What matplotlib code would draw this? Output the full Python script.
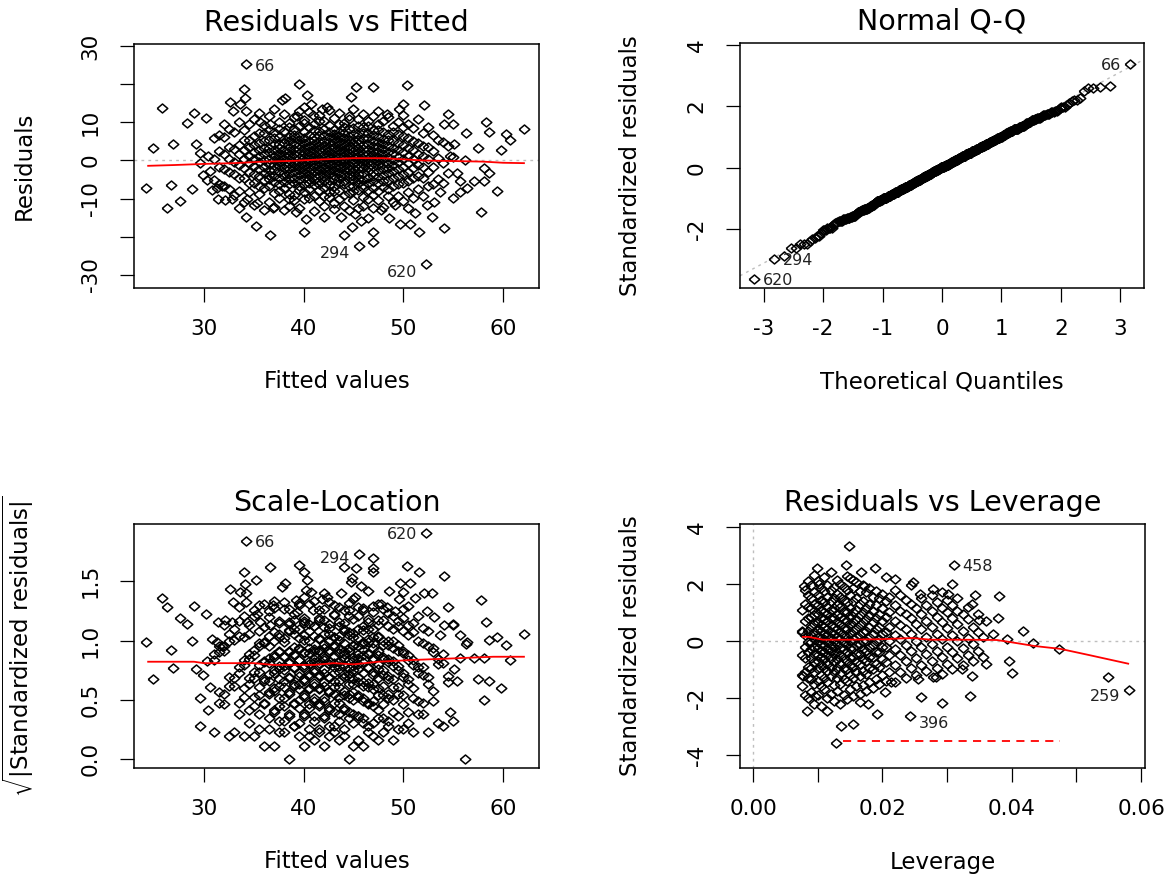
import numpy as np
import matplotlib
matplotlib.use("Agg")
import matplotlib.pyplot as plt
from statistics import NormalDist

plt.rcParams['font.family'] = ['DejaVu Sans']
plt.rcParams['mathtext.fontset'] = 'dejavusans'
plt.rcParams['axes.unicode_minus'] = False

# ---------------- Residuals vs Fitted ----------------
# sparse points round the cloud: (fitted, residual)
edge_left = [(24.2, -7.3), (24.9, 3.4), (25.8, 13.9), (26.3, -12.4), (26.7, -6.4), (26.9, 4.4),
             (27.6, -10.6), (28.3, 9.8), (28.8, -7.5), (29.0, 12.5), (29.2, 4.3), (29.6, 2.0),
             (29.6, -0.6), (29.9, -3.8), (30.2, 11.2), (30.3, -5.1), (30.4, 1.3), (30.6, -2.8),
             (30.8, -7.7)]
edge_mid = [(31.3, -7.3), (31.4, -10.0), (31.8, -6.8), (32.0, 9.6), (32.1, -10.3), (32.6, 15.4),
            (32.8, -10.0), (32.9, 13.1), (33.5, -12.4), (33.6, 14.9), (34.0, 18.7), (34.1, 16.3),
            (34.2, 13.1), (34.2, -14.8), (34.3, -10.0), (35.2, -17.1), (35.3, -11.3), (35.6, 10.1),
            (36.6, 9.6), (36.6, -19.7), (36.9, -12.6), (37.8, 15.8), (38.1, 16.5), (38.5, -12.0),
            (39.2, -13.5), (39.3, 11.6), (39.5, 20.1), (40.0, 14.1), (40.0, -18.7), (40.2, -15.3),
            (40.3, 17.1), (40.7, 14.9), (40.9, 11.9), (41.8, 13.6)]
edge_right = [(42.0, -14.8), (42.3, 14.0), (43.0, -11.3), (43.7, -14.8), (44.0, -19.7), (44.7, 16.7),
              (44.8, -17.5), (45.2, -14.0), (45.3, 19.4), (45.8, -16.0), (46.5, -15.1), (47.0, 19.4),
              (47.0, -18.7), (47.0, -21.5), (47.8, -12.9), (48.4, 12.3), (48.6, -15.1), (49.2, -11.7),
              (49.6, 13.6), (49.7, -16.6), (50.0, 14.9), (50.4, 19.8), (50.5, -12.5), (50.7, -16.6),
              (51.2, -13.8), (51.6, -18.7), (52.1, 14.7), (52.4, -11.7), (52.9, -14.8), (53.1, -10.8),
              (53.7, -8.2), (54.1, 9.6), (54.1, -17.8), (54.5, 12.3), (54.7, 1.2), (55.0, 9.6),
              (55.1, 4.3), (55.4, -3.3), (55.7, -5.5), (55.7, -8.2), (56.2, 0.0), (56.3, 7.1),
              (56.4, -7.3), (57.1, -5.5), (57.5, 3.4), (57.8, -13.5), (58.1, -1.9), (58.1, -5.5),
              (58.3, 10.1), (58.6, 7.6), (58.6, -3.3), (59.4, -8.0), (59.8, 2.7), (60.3, 6.9),
              (60.7, 5.3), (62.1, 8.3)]
# dense middle of the cloud: fitted value -> residuals
core_cols = [
    (31.0, [-5.2, 0.4, 5.9]),
    (31.5, [-6.1, -1.7, 2.4, 6.8]),
    (32.0, [-6.8, -2.3, 1.6, 6.2]),
    (32.5, [-7.5, -2.9, 0.3, 3.6, 8.4]),
    (33.0, [-9.1, -3.5, -0.4, 2.9, 7.6]),
    (33.5, [-8.1, -4.5, -1.1, 1.7, 4.0, 10.2]),
    (34.0, [-10.9, -4.7, -2.1, 0.3, 2.7, 5.3, 7.9]),
    (34.5, [-8.3, -5.9, -3.0, -0.7, 1.3, 3.5, 5.4, 9.6]),
    (35.0, [-11.8, -5.8, -3.5, -1.5, 0.3, 2.1, 4.1, 6.4, 10.9]),
    (35.5, [-8.8, -6.8, -4.1, -2.2, -0.5, 1.1, 2.8, 4.7, 7.2, 12.6]),
    (36.0, [-12.9, -7.2, -5.1, -3.3, -1.6, 0.1, 1.7, 3.4, 5.0, 7.3, 9.3]),
    (36.5, [-10.8, -6.8, -4.9, -3.9, -2.4, -0.9, 0.5, 2.3, 3.3, 5.5, 8.1, 11.7]),
    (37.0, [-12.2, -8.6, -5.6, -4.0, -2.5, -1.2, 0.1, 1.3, 2.7, 4.2, 5.8, 7.5, 13.4]),
    (37.5, [-9.9, -7.9, -6.2, -4.6, -2.9, -1.5, -0.4, 0.8, 2.0, 3.4, 4.3, 6.1, 8.4, 10.2]),
    (38.0, [-13.1, -7.3, -5.7, -4.2, -3.3, -2.0, -0.8, 0.4, 1.5, 2.8, 4.6, 5.6, 7.8, 12.1]),
    (38.5, [-10.0, -8.7, -6.3, -4.9, -3.5, -2.3, -1.0, 0.0, 1.1, 2.4, 3.6, 5.0, 6.1, 8.9, 9.8]),
    (39.0, [-10.3, -9.1, -5.9, -4.5, -3.0, -1.7, -0.6, 0.6, 1.6, 2.9, 4.4, 5.8, 6.7, 8.3, 11.3]),
    (39.5, [-12.6, -7.8, -6.6, -5.2, -3.7, -2.6, -1.4, -0.3, 0.7, 1.9, 3.0, 4.0, 5.3, 6.5, 9.1, 13.0]),
    (40.0, [-10.2, -8.2, -6.1, -4.7, -3.4, -2.2, -1.1, -0.1, 1.0, 2.1, 3.3, 4.5, 6.0, 7.6, 9.9, 10.6]),
    (40.5, [-9.8, -7.5, -6.0, -4.8, -3.9, -2.7, -1.6, -0.5, 0.3, 1.4, 2.6, 3.7, 5.1, 6.6, 8.7, 12.8]),
    (41.0, [-13.3, -9.4, -6.5, -5.0, -4.1, -2.9, -1.8, -0.8, 0.2, 1.0, 2.0, 3.1, 4.2, 5.4, 6.3, 8.1, 9.5]),
    (41.5, [-10.6, -7.7, -6.2, -5.3, -3.8, -2.6, -1.5, -0.4, 0.5, 1.6, 2.7, 3.7, 4.9, 6.4, 7.8, 10.3, 11.9]),
    (42.0, [-12.0, -9.3, -7.1, -5.5, -4.3, -3.2, -2.0, -1.0, -0.1, 0.9, 1.8, 2.9, 4.0, 5.2, 6.6, 8.4, 10.4]),
    (42.5, [-9.7, -8.4, -6.4, -5.1, -3.6, -2.4, -1.3, -0.3, 0.6, 1.4, 2.5, 3.5, 4.8, 6.1, 7.4, 9.2, 13.2]),
    (43.0, [-12.7, -7.9, -6.7, -4.9, -4.0, -2.8, -1.7, -0.6, 0.4, 1.2, 2.3, 3.3, 4.5, 5.7, 6.9, 8.0, 11.1]),
    (43.5, [-10.1, -8.1, -6.0, -4.6, -3.3, -2.1, -1.1, -0.2, 0.8, 1.7, 2.8, 4.1, 5.0, 6.5, 7.6, 9.5, 12.4]),
    (44.0, [-11.9, -9.0, -6.3, -5.4, -3.9, -2.5, -1.4, -0.5, 0.3, 1.3, 2.2, 3.6, 4.7, 5.9, 7.2, 8.7, 9.9]),
    (44.5, [-13.0, -8.6, -6.6, -4.4, -3.5, -2.3, -1.2, 0.0, 0.9, 2.0, 3.0, 3.9, 5.3, 6.3, 8.2, 10.9, 11.8]),
    (45.0, [-10.5, -8.0, -6.8, -5.2, -4.2, -3.0, -1.9, -0.7, 0.1, 1.1, 2.4, 3.4, 4.6, 5.6, 7.0, 8.5, 13.6]),
    (45.5, [-12.4, -7.8, -5.9, -4.8, -3.6, -2.2, -1.0, 0.2, 1.0, 2.1, 3.2, 4.3, 5.5, 6.8, 9.1, 11.0]),
    (46.0, [-9.5, -7.3, -6.4, -5.0, -3.2, -2.0, -0.9, -0.1, 0.7, 1.8, 2.9, 4.0, 5.8, 7.1, 8.9, 12.2, -11.9]),
    (46.5, [-10.1, -7.7, -6.0, -4.5, -2.8, -1.6, -0.4, 0.6, 1.7, 3.1, 4.4, 5.9, 7.3, 9.1, 10.5]),
    (47.0, [-9.0, -7.2, -5.5, -4.1, -3.0, -1.8, -0.7, 0.3, 1.5, 2.6, 3.8, 5.2, 6.6, 8.0, 11.6, -12.5]),
    (47.5, [-10.4, -7.9, -5.8, -4.3, -2.7, -1.3, -0.2, 0.9, 2.2, 3.5, 4.8, 6.2, 8.1, 9.6, 12.9]),
    (48.0, [-12.1, -6.9, -5.4, -3.8, -2.2, -0.9, 0.4, 1.6, 2.9, 4.2, 5.6, 7.5, 10.3]),
    (48.5, [-9.4, -7.4, -5.0, -3.4, -2.0, -0.6, 0.8, 2.3, 3.7, 5.4, 7.0, 11.4]),
    (49.0, [-11.0, -6.6, -4.6, -2.8, -1.2, 0.2, 1.9, 3.4, 5.1, 7.4, 9.0]),
    (49.5, [-9.4, -6.3, -4.2, -2.3, -0.5, 1.0, 2.8, 4.6, 6.9, 10.2]),
    (50.0, [-10.7, -6.0, -3.6, -1.6, 0.5, 2.2, 4.0, 6.3, 8.7, 12.0]),
    (50.5, [-8.2, -5.3, -3.0, -0.7, 1.2, 3.4, 5.8, 9.6]),
    (51.0, [-9.9, -4.7, -2.0, 0.4, 2.7, 5.2, 8.6]),
    (51.5, [-7.4, -4.0, -1.1, 1.8, 4.5, 10.9]),
    (52.0, [-9.2, -4.5, -1.7, 1.1, 3.8, 7.2]),
    (52.5, [-6.8, -3.0, 0.4, 3.6, 8.8]),
    (53.0, [-6.1, -1.8, 2.5, 6.6]),
    (53.5, [-4.8, 0.7, 5.4]),
    (54.0, [-5.9, -0.6, 4.9]),
    (54.5, [-3.2, 3.7]),
    (55.0, [-9.8, 0.8]),
]
# labelled observations
id_names = ["66", "294", "620"]
id_fitted = [34.2, 45.6, 52.3]
id_resid = [25.3, -22.4, -27.3]
sigma = 7.5  # residual / standardized residual, read from obs 66

# red smoothers
rf_smooth_x = [24.4, 27, 30, 33, 36, 39, 42, 45, 48, 50, 52, 54, 56, 58, 60, 62.1]
rf_smooth_y = [-1.4, -1.2, -0.9, -0.7, -0.3, -0.1, 0.3, 0.6, 0.6, 0.3, 0.0, -0.1, -0.2, -0.3, -0.6, -0.7]
sl_smooth_x = [24.4, 29, 30, 35, 37, 41, 43, 45, 47.5, 51, 55, 59, 62.1]
sl_smooth_y = [0.822, 0.822, 0.81, 0.81, 0.795, 0.795, 0.81, 0.80, 0.822, 0.837, 0.85, 0.864, 0.864]

# ---------------- Residuals vs Leverage ----------------
lev_edge = [(0.01486, 3.32), (0.00993, 2.56), (0.01435, 2.67), (0.01883, 2.56), (0.01677, 2.43),
            (0.00792, 1.94), (0.01023, 2.0), (0.01446, 2.27), (0.01548, 2.12), (0.01713, 1.94),
            (0.02063, 2.23), (0.0219, 2.18), (0.02474, 2.06), (0.02782, 1.82), (0.0258, 1.65),
            (0.00752, 0.36), (0.00752, -1.57), (0.00776, -1.22), (0.00957, -1.92), (0.00838, -2.45),
            (0.01147, -2.45), (0.01358, -2.97), (0.01548, -2.91), (0.01276, -3.58), (0.01918, -2.56),
            (0.01651, -2.15), (0.0178, -2.21), (0.02603, -1.98), (0.02551, -1.33), (0.02782, -1.27),
            (0.0214, -1.45), (0.02037, -1.8), (0.0308, 2.0), (0.0302, 1.65), (0.03426, 1.61),
            (0.0380, 1.59), (0.0338, 1.30), (0.0350, 0.74), (0.03786, 0.81), (0.0360, 0.70),
            (0.03709, 0.25), (0.03925, 0.07), (0.04171, 0.36), (0.04336, -0.08), (0.04727, -0.28),
            (0.03955, -0.69), (0.04007, -1.11), (0.03606, -0.81), (0.0339, -1.25), (0.03236, -0.98),
            (0.03359, -1.95), (0.02927, -2.19), (0.05483, -1.27), (0.0283, -1.27)]
lev_cols = [
    (0.0075, [-1.2, -0.5, 0.3, 1.1]),
    (0.0080, [-1.9, -1.1, -0.6, -0.2, 0.2, 0.7, 1.3, 1.8]),
    (0.0085, [-2.0, -1.3, -0.9, -0.4, -0.05, 0.35, 0.8, 1.2, 1.6, 2.1]),
    (0.0090, [-1.8, -1.35, -0.95, -0.6, -0.3, -0.05, 0.2, 0.5, 0.85, 1.15, 1.5, 1.95]),
    (0.0095, [-2.2, -1.5, -1.1, -0.75, -0.45, -0.2, 0.05, 0.3, 0.6, 0.9, 1.3, 1.7, 2.3]),
    (0.0100, [-1.9, -1.4, -1.0, -0.7, -0.5, -0.25, -0.05, 0.15, 0.4, 0.65, 0.95, 1.25, 1.6, 2.1]),
    (0.0105, [-2.3, -1.6, -1.2, -0.85, -0.55, -0.35, -0.1, 0.1, 0.35, 0.55, 0.8, 1.1, 1.45, 1.85]),
    (0.0110, [-1.7, -1.3, -0.95, -0.65, -0.4, -0.15, 0.05, 0.25, 0.5, 0.75, 1.0, 1.35, 1.75, 2.25]),
    (0.0115, [-2.0, -1.45, -1.05, -0.8, -0.5, -0.3, -0.05, 0.2, 0.4, 0.7, 0.95, 1.2, 1.55, 1.95]),
    (0.0120, [-1.85, -1.25, -0.9, -0.6, -0.35, -0.15, 0.1, 0.3, 0.55, 0.8, 1.1, 1.4, 1.8, 2.4]),
    (0.0125, [-2.1, -1.55, -1.1, -0.75, -0.45, -0.2, 0.0, 0.25, 0.5, 0.8, 1.15, 1.5, 1.9]),
    (0.0130, [-1.75, -1.3, -0.95, -0.65, -0.4, -0.1, 0.15, 0.4, 0.65, 0.9, 1.25, 1.65, 2.15]),
    (0.0135, [-2.2, -1.5, -1.15, -0.8, -0.5, -0.25, 0.05, 0.3, 0.55, 0.85, 1.2, 1.55, 2.0]),
    (0.0140, [-1.9, -1.35, -0.95, -0.6, -0.3, -0.05, 0.2, 0.45, 0.75, 1.05, 1.45, 1.9]),
    (0.0145, [-2.05, -1.4, -1.0, -0.7, -0.4, -0.15, 0.1, 0.4, 0.7, 1.0, 1.35, 1.8]),
    (0.0150, [-1.7, -1.2, -0.85, -0.55, -0.25, 0.0, 0.25, 0.55, 0.85, 1.15, 1.6, 2.2]),
    (0.0155, [-1.95, -1.3, -0.9, -0.55, -0.25, 0.05, 0.35, 0.65, 1.0, 1.4, 1.85]),
    (0.0160, [-1.6, -1.1, -0.75, -0.45, -0.15, 0.15, 0.45, 0.75, 1.1, 1.5, 2.05]),
    (0.0165, [-1.85, -1.25, -0.8, -0.45, -0.1, 0.2, 0.55, 0.9, 1.3, 1.75]),
    (0.0170, [-1.55, -1.05, -0.65, -0.3, 0.0, 0.3, 0.65, 1.0, 1.4, 1.95]),
    (0.0175, [-1.75, -1.15, -0.7, -0.35, 0.0, 0.35, 0.75, 1.15, 1.7]),
    (0.0180, [-1.45, -0.95, -0.55, -0.2, 0.15, 0.5, 0.9, 1.3, 1.85]),
    (0.0185, [-1.65, -1.0, -0.55, -0.15, 0.25, 0.65, 1.05, 1.55]),
    (0.0190, [-1.35, -0.8, -0.4, 0.0, 0.4, 0.8, 1.25, 1.75]),
    (0.0195, [-1.5, -0.9, -0.4, 0.05, 0.5, 0.95, 1.5]),
    (0.0200, [-1.2, -0.65, -0.2, 0.25, 0.7, 1.15, 1.65]),
    (0.0205, [-1.4, -0.75, -0.2, 0.3, 0.85, 1.4]),
    (0.0210, [-1.1, -0.5, 0.0, 0.5, 1.0, 1.55]),
    (0.0220, [-1.45, -0.85, -0.3, 0.2, 0.7, 1.25, 1.8]),
    (0.0228, [-1.1, -0.5, 0.05, 0.55, 1.05, 1.6]),
    (0.0236, [-1.3, -0.7, -0.15, 0.4, 0.95, 1.45]),
    (0.0244, [-0.95, -0.35, 0.25, 0.8, 1.3, 1.95]),
    (0.0252, [-1.2, -0.6, 0.0, 0.6, 1.15]),
    (0.0260, [-0.85, -0.2, 0.4, 0.95, 1.5]),
    (0.0268, [-1.05, -0.45, 0.15, 0.7, 1.25]),
    (0.0276, [-0.7, -0.1, 0.5, 1.05, 1.6]),
    (0.0284, [-0.95, -0.35, 0.25, 0.85, 1.35]),
    (0.0292, [-1.15, -0.55, 0.05, 0.65, 1.15, 1.7]),
    (0.0300, [-0.8, -0.2, 0.45, 1.0, 1.45]),
    (0.0308, [-1.0, -0.4, 0.2, 0.8, 1.25]),
    (0.0316, [-0.6, 0.0, 0.6, 1.05, 1.5]),
    (0.0324, [-0.85, -0.25, 0.35, 0.95]),
    (0.0332, [-0.5, 0.1, 0.75, 1.2]),
    (0.0340, [-0.7, -0.1, 0.5]),
    (0.0348, [-0.35, 0.3, 0.95]),
    (0.0356, [-0.55, 0.15]),
]
lev_id_names = ["458", "259", "396"]
lev_id_x = [0.0310, 0.0582, 0.0242]
lev_id_y = [2.67, -1.72, -2.62]
lev_smooth_x = [0.0077, 0.0086, 0.0108, 0.015, 0.020, 0.0247, 0.0275, 0.033, 0.0377, 0.0397, 0.0435, 0.0475, 0.052, 0.058]
lev_smooth_y = [0.14, 0.14, 0.04, 0.04, 0.06, 0.10, 0.04, 0.04, 0.03, -0.04, -0.18, -0.28, -0.5, -0.8]
cook_x = [0.0139, 0.0475]
cook_y = [-3.52, -3.52]

# ---------------- assemble ----------------
edge = np.array(edge_left + edge_mid + edge_right)
core_x = np.concatenate([[x] * len(v) for x, v in core_cols])
core_y = np.concatenate([v for x, v in core_cols])
fitted = np.concatenate([edge[:, 0], core_x, id_fitted])
resid = np.concatenate([edge[:, 1], core_y, id_resid])
n_id = len(id_names)
id_idx = np.arange(len(fitted) - n_id, len(fitted))
std_res = resid / sigma

le = np.array(lev_edge)
lev = np.concatenate([le[:, 0], np.concatenate([[x] * len(v) for x, v in lev_cols]), lev_id_x])
lev_res = np.concatenate([le[:, 1], np.concatenate([v for x, v in lev_cols]), lev_id_y])

# Q-Q
nd = NormalDist()
n = len(std_res)
order = np.argsort(std_res)
theo = np.array([nd.inv_cdf((i + 0.5) / n) for i in range(n)])
qq_y = std_res[order]
rank = np.empty(n, int)
rank[order] = np.arange(n)
q25, q75 = np.percentile(std_res, [25, 75])
z25, z75 = nd.inv_cdf(0.25), nd.inv_cdf(0.75)
qq_slope = (q75 - q25) / (z75 - z25)
qq_int = q25 - qq_slope * z25

# ---------------- drawing ----------------
W, H = 1171, 874
fig = plt.figure(figsize=(W / 100, H / 100), dpi=100)

def box(l, t, r, b):
    return [l / W, 1 - b / H, (r - l) / W, (b - t) / H]

diamond = [(-1, 0), (0, 0.85), (1, 0), (0, -0.85), (-1, 0)]
pt_kw = dict(linestyle='none', marker=diamond, ms=7.6, mfc='none', mec='black', mew=1.1)
grey = '#bebebe'

def style(ax, title, xlabel, ylabel, xt, xtl, yt, ytl):
    ax.set_xticks(xt)
    ax.set_xticklabels(xtl)
    ax.set_yticks(yt)
    ax.set_yticklabels(ytl, rotation=90, va='center')
    ax.tick_params(length=10, width=0.9, labelsize=15.5, direction='out')
    ax.tick_params(axis='x', pad=12)
    ax.tick_params(axis='y', pad=14)
    ax.set_title(title, fontsize=20.5, pad=9.5)
    ax.set_xlabel(xlabel, fontsize=16.5, labelpad=23)
    ax.set_ylabel(ylabel, fontsize=16.5, labelpad=32)
    for s in ax.spines.values():
        s.set_linewidth(1.1)

def tag(ax, x, y, s, side, dy=0):
    dx = 6.5 if side == 'r' else -6.5
    ax.annotate(s, (x, y), xytext=(dx, dy), textcoords='offset points',
                ha='left' if side == 'r' else 'right', va='center', fontsize=11.5, color='#222222')

# 1. Residuals vs Fitted
ax1 = fig.add_axes(box(134, 44, 539, 288))
ax1.axhline(0, color=grey, lw=1, ls=(0, (2, 3)))
ax1.plot(fitted, resid, **pt_kw)
ax1.plot(rf_smooth_x, rf_smooth_y, color='red', lw=1.3)
ax1.set_xlim(22.98, 63.61)
ax1.set_ylim(-33.5, 30.6)
style(ax1, "Residuals vs Fitted", "Fitted values", "Residuals",
      [30, 40, 50, 60], ["30", "40", "50", "60"],
      [-30, -20, -10, 0, 10, 20, 30], ["-30", "", "-10", "0", "10", "", "30"])
for k, (name, side, dy) in enumerate(zip(id_names, ['r', 'l', 'l'], [-1.5, -5.5, -5.5])):
    tag(ax1, id_fitted[k], id_resid[k], name, side, dy)

# 2. Normal Q-Q
ax2 = fig.add_axes(box(740, 43, 1144, 288))
ax2.axline((0, qq_int), slope=qq_slope, color=grey, lw=1, ls=(0, (2, 3)))
ax2.plot(theo, qq_y, **pt_kw)
ax2.set_xlim(-3.40, 3.40)
ax2.set_ylim(-3.92, 4.07)
style(ax2, "Normal Q-Q", "Theoretical Quantiles", "Standardized residuals",
      [-3, -2, -1, 0, 1, 2, 3], ["-3", "-2", "-1", "0", "1", "2", "3"],
      [-2, 0, 2, 4], ["-2", "0", "2", "4"])
for k, name in enumerate(id_names):
    i = id_idx[k]
    side = 'r' if theo[rank[i]] < 0 else 'l'
    tag(ax2, theo[rank[i]], std_res[i], name, side, -1)

# 3. Scale-Location
ax3 = fig.add_axes(box(134, 524, 539, 768))
ax3.plot(fitted, np.sqrt(np.abs(std_res)), **pt_kw)
ax3.plot(sl_smooth_x, sl_smooth_y, color='red', lw=1.3)
ax3.set_xlim(22.98, 63.61)
ax3.set_ylim(-0.073, 1.982)
style(ax3, "Scale-Location", "Fitted values", r"$\sqrt{|\mathrm{Standardized\ residuals}|}$",
      [30, 40, 50, 60], ["30", "40", "50", "60"],
      [0, 0.5, 1.0, 1.5], ["0.0", "0.5", "1.0", "1.5"])
for k, (name, side, dy) in enumerate(zip(id_names, ['r', 'l', 'l'], [-1, -3, -1])):
    i = id_idx[k]
    tag(ax3, fitted[i], np.sqrt(abs(std_res[i])), name, side, dy)

# 4. Residuals vs Leverage
ax4 = fig.add_axes(box(740, 524, 1145, 768))
ax4.axhline(0, color=grey, lw=1, ls=(0, (2, 3)))
ax4.axvline(0, color=grey, lw=1, ls=(0, (2, 3)))
ax4.plot(lev, lev_res, **pt_kw)
ax4.plot(lev_smooth_x, lev_smooth_y, color='red', lw=1.3)
ax4.plot(cook_x, cook_y, color='red', lw=1.3, ls=(0, (4.5, 3.5)))
ax4.set_xlim(-0.00201, 0.0606)
ax4.set_ylim(-4.46, 4.1)
style(ax4, "Residuals vs Leverage", "Leverage", "Standardized residuals",
      [0, 0.01, 0.02, 0.03, 0.04, 0.05, 0.06], ["0.00", "", "0.02", "", "0.04", "", "0.06"],
      [-4, -2, 0, 2, 4], ["-4", "-2", "0", "2", "4"])
for k, (name, side, dy) in enumerate(zip(lev_id_names, ['r', 'l', 'r'], [-1, -5, -6])):
    tag(ax4, lev_id_x[k], lev_id_y[k], name, side, dy)

fig.savefig("out.png", dpi=100)
